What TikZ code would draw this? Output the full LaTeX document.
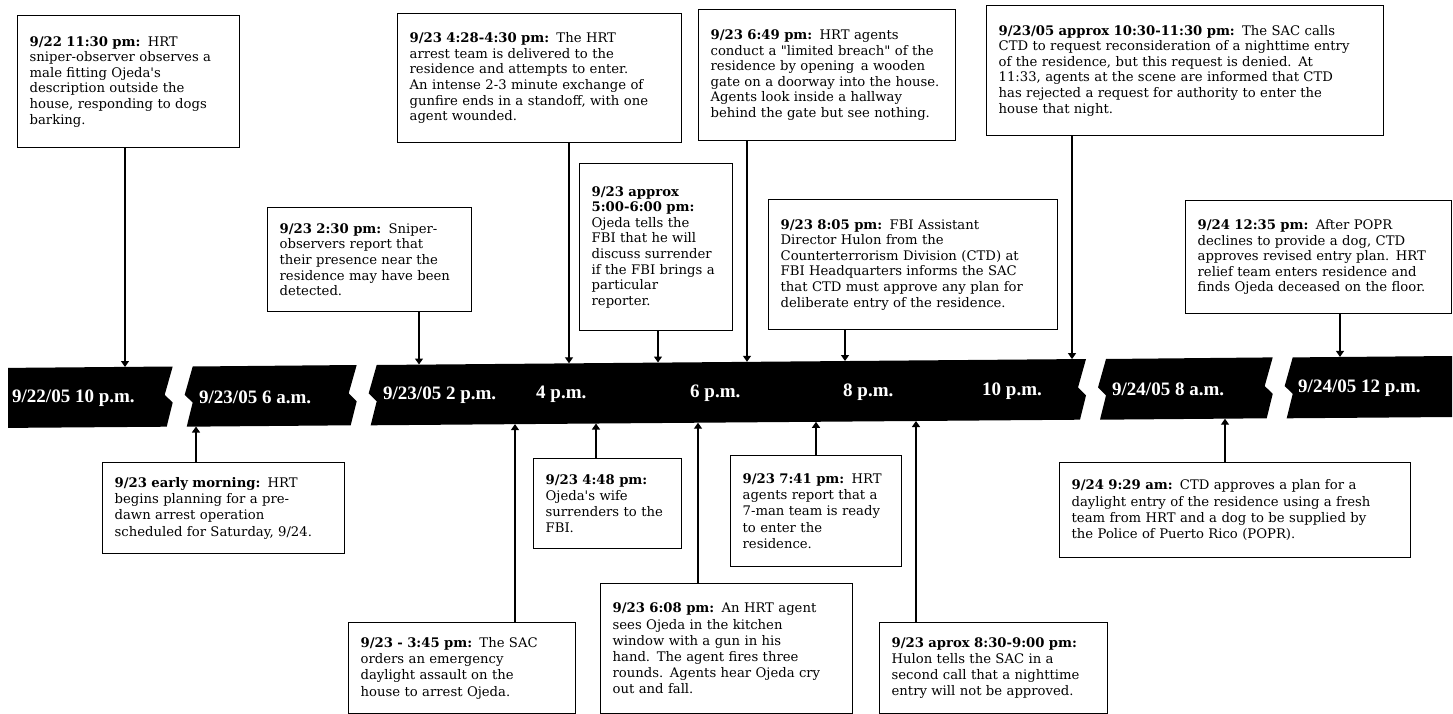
\documentclass[tikz,border=0pt]{standalone}
\usepackage{fontspec}
\setmainfont{DejaVu Serif}
\newfontfamily\bodyfamily{DejaVu Serif}
\newfontfamily\bandfamily{Liberation Serif}
\usetikzlibrary{arrows.meta}
\newcommand\topfont{\bodyfamily\fontsize{13.2}{15.6}\selectfont}
\newcommand\botfont{\bodyfamily\fontsize{13.2}{16.2}\selectfont}
\newcommand\bandfont{\bandfamily\bfseries\fontsize{19}{22}\selectfont}
\newcommand\ttl[1]{\textbf{#1}\hspace{0.55em}}
\tikzset{
  tbox/.style={draw, line width=1.3pt, fill=white, anchor=north west,
    inner xsep=12pt, inner ysep=4pt, align=left, font=\topfont},
  bbox/.style={tbox, font=\botfont},
  conn/.style={line width=1.2pt, -{Triangle[length=6pt,width=8pt]}},
  band/.style={fill=black, draw=none},
  blabel/.style={text=white, font=\bandfont, anchor=west, inner sep=0pt},
}
\begin{document}
\begin{tikzpicture}[x=1pt,y=-1pt]
\useasboundingbox (0,0) rectangle (1453,714);

% ---- timeline band segments ----
\fill[band] (8,367.9) -- (172.7,366.5) -- (164.7,394.8) -- (172.7,402.6) -- (166.7,426.7) -- (8,427.9) -- cycle;
\fill[band] (192.7,366.5) -- (356.7,365.0) -- (348.7,393.3) -- (356.7,401.2) -- (350.7,425.3) -- (186.7,426.7) -- (192.7,402.6) -- (184.7,394.8) -- cycle;
\fill[band] (376.7,365.0) -- (1086,359.0) -- (1078,387.5) -- (1086,395.4) -- (1080,419.7) -- (370.7,425.3) -- (376.7,401.2) -- (368.7,393.3) -- cycle;
\fill[band] (1106,359.0) -- (1272.7,357.4) -- (1264.7,386.0) -- (1272.7,393.9) -- (1266.7,418.3) -- (1100,419.7) -- (1106,395.4) -- (1098,387.5) -- cycle;
\fill[band] (1292.7,357.4) -- (1452,356.0) -- (1452,417.0) -- (1286.7,418.3) -- (1292.7,393.9) -- (1284.7,386.0) -- cycle;

% ---- band labels ----
\node[blabel] (l1) at (12,398.5) {9/22/05 10 p.m.};
\node[blabel] (l2) at (199,397.0) {9/23/05 6 a.m.};
\node[blabel] (l3) at (383,395.6) {9/23/05 2 p.m.};
\node[blabel] (l4) at (536,394.4) {4 p.m.};
\node[blabel] (l5) at (690,393.1) {6 p.m.};
\node[blabel] (l6) at (843,391.9) {8 p.m.};
\node[blabel] (l7) at (982,390.8) {10 p.m.};
\node[blabel] (l8) at (1112,389.8) {9/24/05 8 a.m.};
\node[blabel] (l9) at (1298,388.3) {9/24/05 12 p.m.};

% ---- attach points on the band ----
\coordinate (a1) at (125,367.0);
\coordinate (a5) at (419,364.5);
\coordinate (a2) at (569,363.3);
\coordinate (aap) at (658,362.5);
\coordinate (a3) at (747,361.8);
\coordinate (a805) at (845,361.0);
\coordinate (a4) at (1072,359.1);
\coordinate (a6) at (1340,356.9);
\coordinate (cearly) at (196,426.5);
\coordinate (c345) at (515,424.1);
\coordinate (c448) at (596,423.5);
\coordinate (c608) at (698,422.7);
\coordinate (c741) at (816,421.8);
\coordinate (c830) at (916,421.0);
\coordinate (c929) at (1225,418.7);

% ---- top boxes ----
\node[tbox, text width=198pt, minimum height=132pt] (b1) at (17,15) {\ttl{9/22 11:30 pm:}HRT\\
sniper-observer observes a\\ male fitting Ojeda's\\ description outside the\\ house, responding to dogs\\ barking.};
\node[tbox, text width=260pt, minimum height=129pt] (b2) at (397,13) {\ttl{9/23 4:28-4:30 pm:}The HRT\\
arrest team is delivered to the\\ residence and attempts to enter.\\ An intense 2-3 minute exchange of\\ gunfire ends in a standoff, with one\\ agent wounded.};
\node[tbox, text width=233pt, minimum height=131pt] (b3) at (698,9) {\ttl{9/23 6:49 pm:}HRT agents\\
conduct a "limited breach" of the\\ residence by opening\, a wooden\\ gate on a doorway into the house.\\ Agents look inside a hallway\\ behind the gate but see nothing.};
\node[tbox, text width=373pt, minimum height=130pt] (b4) at (986,5) {\ttl{9/23/05 approx 10:30-11:30 pm:}The SAC calls\\
CTD to request reconsideration of a nighttime entry\\ of the residence, but this request is denied.\hspace{0.5em}At\\ 11:33, agents at the scene are informed that CTD\\ has rejected a request for authority to enter the\\ house that night.};
\node[tbox, text width=180pt, minimum height=104pt] (b5) at (267,207) {\ttl{9/23 2:30 pm:}Sniper-\\
observers report that\\ their presence near the\\ residence may have been\\ detected.};
\node[tbox, text width=129pt, minimum height=167pt] (bap) at (579,163) {\textbf{9/23 approx}\\ \textbf{5:00-6:00 pm:}\\
Ojeda tells the\\ FBI that he will\\ discuss surrender\\ if the FBI brings a\\ particular\\ reporter.};
\node[tbox, text width=265pt, minimum height=130pt] (b805) at (768,199) {\ttl{9/23 8:05 pm:}FBI Assistant\\
Director Hulon from the\\ Counterterrorism Division (CTD) at\\ FBI Headquarters informs the SAC\\ that CTD must approve any plan for\\ deliberate entry of the residence.};
\node[tbox, text width=242pt, minimum height=113pt] (b6) at (1185,200) {\ttl{9/24 12:35 pm:}After POPR\\
declines to provide a dog, CTD\\ approves revised entry plan.\hspace{0.5em}HRT\\ relief team enters residence and\\ finds Ojeda deceased on the floor.};

% ---- bottom boxes ----
\node[bbox, text width=218pt, minimum height=91pt] (bearly) at (102,462) {\ttl{9/23 early morning:}HRT\\
begins planning for a pre-\\ dawn arrest operation\\ scheduled for Saturday, 9/24.};
\node[bbox, text width=124pt, minimum height=90pt] (b448) at (533,458) {\textbf{9/23 4:48 pm:}\\
Ojeda's wife\\ surrenders to the\\ FBI.};
\node[bbox, text width=203pt, minimum height=91pt] (b345) at (348,622) {\ttl{9/23 - 3:45 pm:}The SAC\\
orders an emergency\\ daylight assault on the\\ house to arrest Ojeda.};
\node[bbox, text width=228pt, minimum height=130pt] (b608) at (600,583) {\ttl{9/23 6:08 pm:}An HRT agent\\
sees Ojeda in the kitchen\\ window with a gun in his\\ hand.\hspace{0.5em}The agent fires three\\ rounds.\hspace{0.5em}Agents hear Ojeda cry\\ out and fall.};
\node[bbox, text width=147pt, minimum height=111pt] (b741) at (730,455) {\ttl{9/23 7:41 pm:}HRT\\
agents report that a\\ 7-man team is ready\\ to enter the\\ residence.};
\node[bbox, text width=204pt, minimum height=91pt] (b830) at (879,622) {\textbf{9/23 aprox 8:30-9:00 pm:}\\
Hulon tells the SAC in a\\ second call that a nighttime\\ entry will not be approved.};
\node[bbox, text width=327pt, minimum height=95pt] (b929) at (1059,462) {\ttl{9/24 9:29 am:}CTD approves a plan for a\\
daylight entry of the residence using a fresh\\ team from HRT and a dog to be supplied by\\ the Police of Puerto Rico (POPR).};

% ---- connectors ----
\draw[conn] (b1.south -| a1) -- (a1);
\draw[conn] (b5.south -| a5) -- (a5);
\draw[conn] (b2.south -| a2) -- (a2);
\draw[conn] (bap.south -| aap) -- (aap);
\draw[conn] (b3.south -| a3) -- (a3);
\draw[conn] (b805.south -| a805) -- (a805);
\draw[conn] (b4.south -| a4) -- (a4);
\draw[conn] (b6.south -| a6) -- (a6);
\draw[conn] (bearly.north -| cearly) -- (cearly);
\draw[conn] (b345.north -| c345) -- (c345);
\draw[conn] (b448.north -| c448) -- (c448);
\draw[conn] (b608.north -| c608) -- (c608);
\draw[conn] (b741.north -| c741) -- (c741);
\draw[conn] (b830.north -| c830) -- (c830);
\draw[conn] (b929.north -| c929) -- (c929);
\end{tikzpicture}
\end{document}
